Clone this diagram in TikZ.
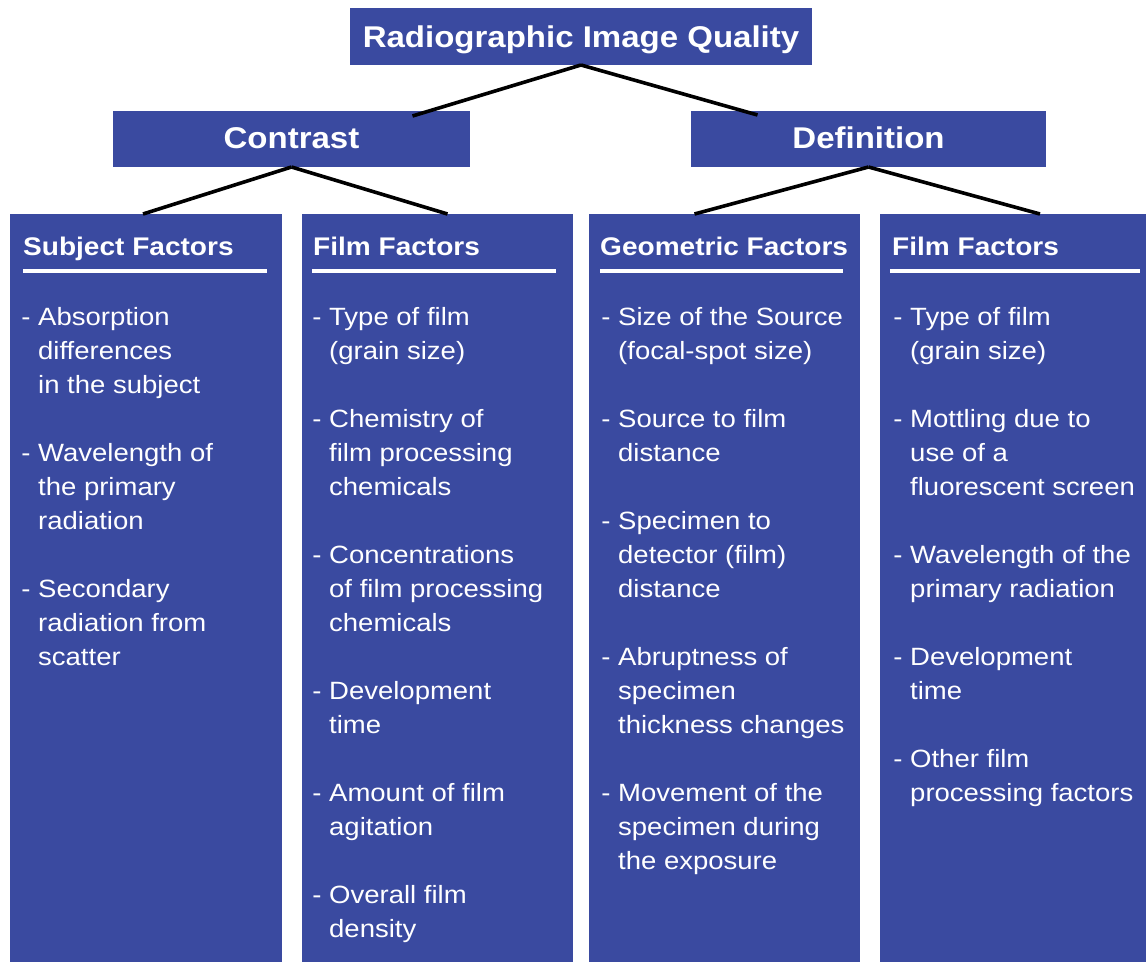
\documentclass[tikz,border=0pt]{standalone}
\usepackage{fontspec}
\setmainfont{Liberation Sans}[FakeStretch=1.1]
\usetikzlibrary{calc}
\definecolor{panelblue}{RGB}{58,74,160}

% one bullet item: dash hangs to the left of the text column
\newcommand\itm[1]{\hbox{\llap{- }#1}}
\newcommand\cnt[1]{\hbox{#1}}
\newcommand\gap{\hbox{}}
\newcommand\listbox[1]{\vtop{\baselineskip=34pt\lineskiplimit=-\maxdimen #1}}

\tikzset{
  titlebox/.style={fill=panelblue, text=white, inner sep=0, outer sep=0,
    font=\bfseries\fontsize{30}{34}\selectfont, text depth=0pt},
  colbox/.style={fill=panelblue, inner sep=0, outer sep=0, anchor=north west,
    minimum height=748},
  colhead/.style={text=white, inner sep=0, anchor=base west,
    font=\bfseries\fontsize{25.5}{34}\selectfont},
  collist/.style={text=white, inner sep=0, anchor=base west,
    font=\fontsize{25}{34}\selectfont},
  headrule/.style={white, line width=4},
  link/.style={black, line width=3.6}
}

\begin{document}
\begin{tikzpicture}[x=1pt, y=-1pt]
\useasboundingbox[fill=white] (0,0) rectangle (1146,962);

% upper level boxes
\node[titlebox, minimum width=462, minimum height=57, text height=21pt]
  (quality) at (581,36.5) {Radiographic Image Quality};
\node[titlebox, minimum width=357, minimum height=56, text height=18pt]
  (contrast) at (291.5,139) {Contrast};
\node[titlebox, minimum width=355, minimum height=56, text height=18pt]
  (definition) at (868.5,139) {Definition};

% factor columns
\node[colbox, minimum width=272] (c1) at (10,214) {};
\node[colbox, minimum width=271] (c2) at (302,214) {};
\node[colbox, minimum width=271] (c3) at (589,214) {};
\node[colbox, minimum width=266] (c4) at (880,214) {};

% column headings and their rules
\node[colhead] (h1) at (23,255) {Subject Factors};
\node[colhead] (h2) at (313,255) {Film Factors};
\node[colhead] (h3) at (600,255) {Geometric Factors};
\node[colhead] (h4) at (892,255) {Film Factors};
\draw[headrule] ($(c1.north west)+(13,57)$) -- ($(c1.north east)+(-15,57)$);
\draw[headrule] ($(c2.north west)+(10,57)$) -- ($(c2.north east)+(-17,57)$);
\draw[headrule] ($(c3.north west)+(11,57)$) -- ($(c3.north east)+(-17,57)$);
\draw[headrule] ($(c4.north west)+(10,57)$) -- ($(c4.north east)+(-6,57)$);

% column contents
\node[collist] (l1) at (38,325) {\listbox{%
  \itm{Absorption}\cnt{differences}\cnt{in the subject}\gap
  \itm{Wavelength of}\cnt{the primary}\cnt{radiation}\gap
  \itm{Secondary}\cnt{radiation from}\cnt{scatter}}};
\node[collist] (l2) at (329,325) {\listbox{%
  \itm{Type of film}\cnt{(grain size)}\gap
  \itm{Chemistry of}\cnt{film processing}\cnt{chemicals}\gap
  \itm{Concentrations}\cnt{of film processing}\cnt{chemicals}\gap
  \itm{Development}\cnt{time}\gap
  \itm{Amount of film}\cnt{agitation}\gap
  \itm{Overall film}\cnt{density}}};
\node[collist] (l3) at (618,325) {\listbox{%
  \itm{Size of the Source}\cnt{(focal-spot size)}\gap
  \itm{Source to film}\cnt{distance}\gap
  \itm{Specimen to}\cnt{detector (film)}\cnt{distance}\gap
  \itm{Abruptness of}\cnt{specimen}\cnt{thickness changes}\gap
  \itm{Movement of the}\cnt{specimen during}\cnt{the exposure}}};
\node[collist] (l4) at (910,325) {\listbox{%
  \itm{Type of film}\cnt{(grain size)}\gap
  \itm{Mottling due to}\cnt{use of a}\cnt{fluorescent screen}\gap
  \itm{Wavelength of the}\cnt{primary radiation}\gap
  \itm{Development}\cnt{time}\gap
  \itm{Other film}\cnt{processing factors}}};

% connectors
\draw[link] (quality.south) -- ($(contrast.north)+(121,5)$);
\draw[link] (quality.south) -- ($(definition.north)+(-111,4)$);
\draw[link] (contrast.south) -- ($(c1.north)+(-3,0)$);
\draw[link] (contrast.south) -- ($(c2.north)+(10,0)$);
\draw[link] (definition.south) -- ($(c3.north)+(-30,0)$);
\draw[link] (definition.south) -- ($(c4.north)+(27,0)$);
\end{tikzpicture}
\end{document}
